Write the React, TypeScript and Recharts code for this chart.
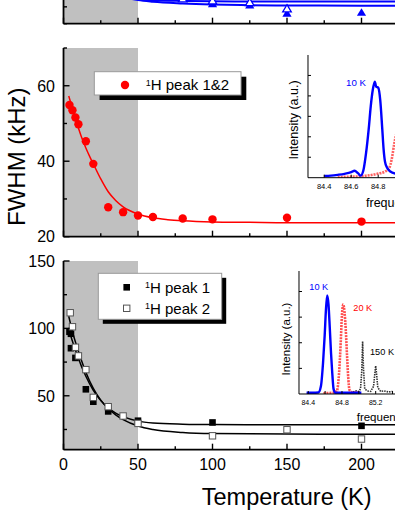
import React from "react";
import {
  CartesianGrid,
  ComposedChart,
  Line,
  LineChart,
  ReferenceArea,
  Scatter,
  XAxis,
  YAxis,
} from "recharts";

const FONT = "'Liberation Sans', Arial, Helvetica, sans-serif";
const RED = "#ff0000";
const BLUE = "#0000ff";

// temperature axis, shared by the three stacked panels
const tempTicks = [0, 25, 50, 75, 100, 125, 150, 175, 200, 225, 250, 275, 300];
const tempMajor = [0, 50, 100, 150, 200, 250, 300];
const tempLabels = [0, 50, 100, 150, 200]; // the rest is outside the crop

// top panel (only its lower edge is inside the crop, its labels are not)
const topTicks = [0, 5, 10, 15, 20, 25, 30, 35, 40, 45, 50, 55];
const topLabels: number[] = [];
const openTriT = [80, 100, 125, 150];
const openTriV = [7.4, 6.8, 6.3, 4.45];
const fullTriT = [100, 125, 150, 200];
const fullTriV = [5.9, 5.55, 3.1, 3.35];
const topFitT = [4, 10, 20, 30, 40, 50, 60, 80, 100, 125, 150, 200, 300];
const topFitA = [52, 32, 17, 11, 8.6, 7.3, 6.95, 6.75, 6.65, 6.6, 6.6, 6.6, 6.6];
const topFitB = [48, 29, 15, 10, 8.0, 7.0, 6.5, 6.0, 5.7, 5.5, 5.4, 5.35, 5.35];

// middle panel: 1H peak 1&2
const midTicks = [20, 30, 40, 50, 60, 70];
const midLabels = [20, 40, 60];
const peak12T = [4, 6, 8, 10, 15, 20, 30, 40, 50, 60, 80, 100, 150, 200];
const peak12W = [54.9, 53.5, 51.6, 49.8, 45.3, 39.3, 27.8, 26.5, 25.6, 25.2, 24.8, 24.6, 25.0, 24.0];
const fit12T = [3.5, 6, 8, 10, 12, 15, 18, 20, 25, 30, 35, 40, 50, 60, 70, 80, 100, 125, 150, 200, 250, 300];
const fit12W = [57.3, 54.0, 51.3, 48.8, 46.5, 43.5, 40.9, 39.3, 35.3, 31.9, 29.6, 27.9, 26.0, 25.0, 24.5, 24.2, 23.9, 23.8, 23.7, 23.7, 23.7, 23.7];

// bottom panel: peak 1 (filled) and peak 2 (open)
const botTicks = [25, 50, 75, 100, 125, 150];
const botLabels = [50, 100, 150];
const peak1T = [4, 5, 5, 8, 15, 20, 30, 50, 100, 200];
const peak1W = [97.5, 96, 85.3, 78.1, 54.8, 45.6, 38.4, 31.5, 30.2, 27.7];
const peak2T = [4.5, 6, 8, 10, 15, 20, 30, 40, 50, 100, 150, 200];
const peak2W = [111.6, 101.2, 86, 79.6, 69.4, 48.8, 41.9, 35, 29.5, 20.3, 24.8, 17.9];
const fitT = [3.5, 5, 6, 8, 10, 12, 15, 20, 25, 30, 35, 40, 50, 60, 80, 100, 150, 200, 300];
const fit1W = [100.5, 94, 90.5, 84, 77.8, 72, 64.5, 54, 46.5, 41, 37.2, 34.5, 31.2, 29.8, 28.9, 28.6, 28.5, 28.5, 28.5];
const fit2W = [109, 102, 97.5, 90, 83, 76.3, 67.5, 55.5, 46.8, 40.5, 35.8, 32.3, 27.6, 25.0, 22.8, 22.0, 21.6, 21.5, 21.5];

// inset of the middle panel (spectra)
const midInsetTicks = [84.4, 84.6, 84.8, 85.0, 85.2];
const midInsetLabels = [84.4, 84.6, 84.8];
const midInsetY = [1, 2, 3, 4, 5];
const midBlueF = [84.4, 84.45, 84.5, 84.55, 84.6, 84.625, 84.65, 84.67, 84.69, 84.71, 84.73, 84.745, 84.76, 84.775, 84.785, 84.8, 84.815, 84.83, 84.84, 84.85, 84.865, 84.89, 84.93];
const midBlueI = [0.08, 0.1, 0.14, 0.19, 0.27, 0.34, 0.22, 0.1, 0.35, 1.2, 2.4, 3.5, 4.3, 4.7, 4.45, 4.4, 3.8, 2.4, 1.4, 0.8, 0.5, 0.3, 0.2];
const midRedF = [84.5, 84.55, 84.6, 84.65, 84.7, 84.75, 84.8, 84.85, 84.88, 84.9, 84.92, 84.94];
const midRedI = [0.03, 0.04, 0.05, 0.06, 0.09, 0.13, 0.2, 0.3, 0.45, 0.9, 1.7, 2.3];

// inset of the bottom panel (spectra at 10 K, 20 K, 150 K)
const botInsetTicks = [84.4, 84.6, 84.8, 85.0, 85.2, 85.4];
const botInsetLabels = [84.4, 84.8, 85.2];
const botInsetY = [1, 2, 3, 4];
const botBlueF = [84.38, 84.45, 84.52, 84.55, 84.575, 84.595, 84.61, 84.625, 84.64, 84.655, 84.67, 84.685, 84.7, 84.72, 84.8, 84.9, 85.03];
const botBlueI = [0.05, 0.05, 0.06, 0.3, 1.2, 2.3, 3.3, 3.85, 3.5, 2.6, 1.6, 0.8, 0.2, 0.05, 0.05, 0.05, 0.05];
const botRedF = [84.58, 84.7, 84.74, 84.765, 84.785, 84.8, 84.815, 84.83, 84.845, 84.86, 84.875, 84.89, 84.93, 85.0];
const botRedI = [0.03, 0.05, 0.12, 0.8, 2.0, 3.1, 3.5, 3.2, 2.5, 1.5, 0.6, 0.15, 0.06, 0.05];
const botBlackF = [84.93, 84.97, 85.0, 85.02, 85.035, 85.045, 85.055, 85.07, 85.1, 85.14, 85.175, 85.19, 85.2, 85.21, 85.225, 85.26, 85.3, 85.35, 85.4];
const botBlackI = [0.08, 0.12, 0.1, 0.2, 0.9, 2.05, 1.0, 0.2, 0.12, 0.1, 0.3, 0.8, 1.1, 0.8, 0.25, 0.1, 0.12, 0.08, 0.1];

const pts = (t: number[], v: number[]) => t.map((x, k) => ({ t: x, v: v[k] }));
const spec = (f: number[], i: number[]) => f.map((x, k) => ({ f: x, i: i[k] }));

const AXIS = { stroke: "#000", strokeWidth: 1.8 };
const THIN = { stroke: "#000", strokeWidth: 1 };
const PLOT_LEFT = 63.5;
const PLOT_W = 447; // 0..300 K
const PLOT_H = 188.7;
const MT = 14;

function TempTick({ x, y, payload, up, labels }: any) {
  const major = tempMajor.includes(payload.value);
  const len = major ? 6 : 3.5;
  return (
    <g>
      <line x1={x} x2={x} y1={y} y2={up ? y - len : y + len} stroke="#000" strokeWidth={1.4} />
      {labels && tempLabels.includes(payload.value) ? (
        <text x={x} y={y + 20.7} textAnchor="middle" fontSize={16} fill="#000">
          {payload.value}
        </text>
      ) : null}
    </g>
  );
}

function ValueTick({ x, y, payload, labels }: any) {
  const major = labels.includes(payload.value);
  const len = major ? 6 : 3.5;
  return (
    <g>
      <line x1={x} x2={x + len} y1={y} y2={y} stroke="#000" strokeWidth={1.4} />
      {major ? (
        <text x={x - 8.5} y={y + 5.8} textAnchor="end" fontSize={16} fill="#000">
          {payload.value}
        </text>
      ) : null}
    </g>
  );
}

function Panel({ plotTop, bottomSpace, yDomain, yTicks, yLabels, xLabels, children }: any) {
  const width = 530;
  return (
    <div style={{ position: "absolute", left: 0, top: plotTop - MT }}>
      <ComposedChart
        width={width}
        height={MT + PLOT_H + bottomSpace}
        margin={{ top: MT, right: width - PLOT_LEFT - PLOT_W, bottom: 0, left: PLOT_LEFT - 60 }}
      >
        <ReferenceArea x1={0} x2={50} fill="#c0c0c0" fillOpacity={1} stroke="none" />
        <XAxis
          dataKey="t"
          type="number"
          domain={[0, 300]}
          ticks={tempTicks}
          interval={0}
          height={bottomSpace}
          tickSize={0}
          tickMargin={0}
          tickLine={false}
          axisLine={AXIS}
          tick={<TempTick up labels={xLabels} />}
          allowDataOverflow
        />
        <XAxis
          xAxisId="top"
          dataKey="t"
          orientation="top"
          type="number"
          domain={[0, 300]}
          ticks={tempTicks}
          interval={0}
          height={0}
          tickSize={0}
          tickMargin={0}
          tickLine={false}
          axisLine={AXIS}
          tick={<TempTick />}
          allowDataOverflow
        />
        <YAxis
          type="number"
          domain={yDomain}
          ticks={yTicks}
          interval={0}
          width={60}
          tickSize={0}
          tickMargin={0}
          tickLine={false}
          axisLine={AXIS}
          tick={<ValueTick labels={yLabels} />}
          allowDataOverflow
        />
        {children}
      </ComposedChart>
    </div>
  );
}

function InsetTickX({ x, y, payload, up, labels, fontSize }: any) {
  return (
    <g>
      <line x1={x} x2={x} y1={y} y2={up ? y - 3 : y + 3} stroke="#000" strokeWidth={1} />
      {labels && labels.includes(payload.value) ? (
        <text x={x} y={y + 11.5} textAnchor="middle" fontSize={fontSize} fill="#000">
          {payload.value.toFixed(1)}
        </text>
      ) : null}
    </g>
  );
}

function InsetTickY({ x, y }: any) {
  return <line x1={x} x2={x + 3} y1={y} y2={y} stroke="#000" strokeWidth={1} />;
}

function Inset({ plotLeft, plotTop, plotW, plotH, xDomain, xTicks, xLabels, yDomain, yTicks, fontSize, children }: any) {
  const mt = 6;
  return (
    <div style={{ position: "absolute", left: plotLeft - 4, top: plotTop - mt }}>
      <LineChart width={plotW + 8} height={mt + plotH + 16} margin={{ top: mt, right: 4, bottom: 0, left: 0 }}>
        <CartesianGrid horizontal={false} vertical={false} fill="#fff" />
        <XAxis
          dataKey="f"
          type="number"
          domain={xDomain}
          ticks={xTicks}
          interval={0}
          height={16}
          tickSize={0}
          tickMargin={0}
          tickLine={false}
          axisLine={THIN}
          tick={<InsetTickX up labels={xLabels} fontSize={fontSize} />}
          allowDataOverflow
        />
        <XAxis
          xAxisId="top"
          dataKey="f"
          orientation="top"
          type="number"
          domain={xDomain}
          ticks={xTicks}
          interval={0}
          height={0}
          tickSize={0}
          tickMargin={0}
          tickLine={false}
          axisLine={THIN}
          tick={<InsetTickX />}
          allowDataOverflow
        />
        <YAxis
          type="number"
          domain={yDomain}
          ticks={yTicks}
          interval={0}
          width={4}
          tickSize={0}
          tickMargin={0}
          tickLine={false}
          axisLine={THIN}
          tick={<InsetTickY />}
          allowDataOverflow
        />
        {children}
      </LineChart>
    </div>
  );
}

const RedDot = (p: any) => <circle cx={p.cx} cy={p.cy} r={4.2} fill={RED} />;
const BlackSq = (p: any) => <rect x={p.cx - 3.3} y={p.cy - 3.3} width={6.6} height={6.6} fill="#000" />;
const WhiteSq = (p: any) => (
  <rect x={p.cx - 3.2} y={p.cy - 3.2} width={6.4} height={6.4} fill="#fff" stroke="#555" strokeWidth={1} />
);
const BlueTri = (p: any) => (
  <path d={`M${p.cx},${p.cy - 4.2}L${p.cx + 4.6},${p.cy + 3.4}L${p.cx - 4.6},${p.cy + 3.4}Z`} fill={BLUE} />
);
const OpenTri = (p: any) => (
  <path
    d={`M${p.cx},${p.cy - 4}L${p.cx + 4.3},${p.cy + 3.2}L${p.cx - 4.3},${p.cy + 3.2}Z`}
    fill="#fff"
    stroke={BLUE}
    strokeWidth={1.3}
  />
);

function Sup({ x, y, text, size }: { x: number; y: number; text: string; size: number }) {
  return (
    <text x={x} y={y} fontSize={size} fill="#000">
      <tspan fontSize={size * 0.6} dy={-4.5}>
        1
      </tspan>
      <tspan dy={4.5}>{text}</tspan>
    </text>
  );
}

export default function App() {
  return (
    <div
      style={{
        position: "fixed",
        left: 0,
        top: 0,
        width: 395,
        height: 511,
        overflow: "hidden",
        background: "#fff",
        fontFamily: FONT,
      }}
    >
      <Panel plotTop={24 - PLOT_H} bottomSpace={8} yDomain={[0, 56]} yTicks={topTicks} yLabels={topLabels}>
        <Line data={pts(topFitT, topFitA)} dataKey="v" type="monotone" stroke={BLUE} strokeWidth={2} dot={false} isAnimationActive={false} />
        <Line data={pts(topFitT, topFitB)} dataKey="v" type="monotone" stroke={BLUE} strokeWidth={2} dot={false} isAnimationActive={false} />
        <Scatter data={pts(fullTriT, fullTriV)} dataKey="v" shape={BlueTri} isAnimationActive={false} />
        <Scatter data={pts(openTriT, openTriV)} dataKey="v" shape={OpenTri} isAnimationActive={false} />
      </Panel>

      <Panel plotTop={48} bottomSpace={8} yDomain={[20, 70]} yTicks={midTicks} yLabels={midLabels}>
        <Line data={pts(fit12T, fit12W)} dataKey="v" type="monotone" stroke={RED} strokeWidth={1.5} dot={false} isAnimationActive={false} />
        <Scatter data={pts(peak12T, peak12W)} dataKey="v" shape={RedDot} isAnimationActive={false} />
      </Panel>

      <Panel plotTop={260.7} bottomSpace={40} yDomain={[10, 150]} yTicks={botTicks} yLabels={botLabels} xLabels>
        <Line data={pts(fitT, fit1W)} dataKey="v" type="monotone" stroke="#000" strokeWidth={1.5} dot={false} isAnimationActive={false} />
        <Line data={pts(fitT, fit2W)} dataKey="v" type="monotone" stroke="#000" strokeWidth={1.5} dot={false} isAnimationActive={false} />
        <Scatter data={pts(peak1T, peak1W)} dataKey="v" shape={BlackSq} isAnimationActive={false} />
        <Scatter data={pts(peak2T, peak2W)} dataKey="v" shape={WhiteSq} isAnimationActive={false} />
      </Panel>

      <Inset
        plotLeft={307.7}
        plotTop={55}
        plotW={137.7}
        plotH={122.7}
        xDomain={[84.28, 85.3]}
        xTicks={midInsetTicks}
        xLabels={midInsetLabels}
        yDomain={[0, 6]}
        yTicks={midInsetY}
        fontSize={7.5}
      >
        <Line data={spec(midRedF, midRedI)} dataKey="i" type="monotone" stroke="#ff6060" strokeWidth={2.6} strokeDasharray="2 1" dot={false} isAnimationActive={false} />
        <Line data={spec(midBlueF, midBlueI)} dataKey="i" type="monotone" stroke={BLUE} strokeWidth={2.4} dot={false} isAnimationActive={false} />
      </Inset>

      <Inset
        plotLeft={299.3}
        plotTop={271}
        plotW={110.4}
        plotH={123}
        xDomain={[84.29, 85.6]}
        xTicks={botInsetTicks}
        xLabels={botInsetLabels}
        yDomain={[0, 4.8]}
        yTicks={botInsetY}
        fontSize={7}
      >
        <Line data={spec(botBlackF, botBlackI)} dataKey="i" type="linear" stroke="#333" strokeWidth={1.6} strokeDasharray="1.5 1" dot={false} isAnimationActive={false} />
        <Line data={spec(botRedF, botRedI)} dataKey="i" type="monotone" stroke="#ff5050" strokeWidth={2.6} strokeDasharray="2 1" dot={false} isAnimationActive={false} />
        <Line data={spec(botBlueF, botBlueI)} dataKey="i" type="monotone" stroke={BLUE} strokeWidth={2.4} dot={false} isAnimationActive={false} />
      </Inset>

      <svg width={395} height={511} style={{ position: "absolute", left: 0, top: 0, pointerEvents: "none" }}>
        <text transform="translate(16.7,156.7) rotate(-90)" textAnchor="middle" dominantBaseline="central" fontSize={24} fill="#000">
          FWHM (kHz)
        </text>
        <text x={286.7} y={505} textAnchor="middle" fontSize={23.5} fill="#000">
          Temperature (K)
        </text>

        {/* legend, middle panel */}
        <rect x={99.6} y={76.7} width={146.7} height={23.3} fill="#000" />
        <rect x={94.3} y={71.7} width={146.7} height={23.3} fill="#fff" stroke="#999" strokeWidth={1} />
        <circle cx={125} cy={85} r={4.2} fill={RED} />
        <Sup x={145.7} y={90.4} text="H peak 1&2" size={15} />

        {/* legend, bottom panel */}
        <rect x={102.8} y={277.8} width={123.4} height={46} fill="#000" />
        <rect x={98.3} y={273.3} width={123.4} height={46} fill="#fff" stroke="#999" strokeWidth={1} />
        <rect x={123.4} y={284} width={6.6} height={6.6} fill="#000" />
        <rect x={123.5} y={305.1} width={6.4} height={6.4} fill="#fff" stroke="#555" strokeWidth={1} />
        <Sup x={145} y={292.7} text="H peak 1" size={15} />
        <Sup x={145} y={313.7} text="H peak 2" size={15} />

        {/* inset annotations */}
        <text transform="translate(294,120) rotate(-90)" textAnchor="middle" dominantBaseline="central" fontSize={12.5} fill="#000">
          Intensity (a.u.)
        </text>
        <text x={366} y={207.2} fontSize={12.5} fill="#000">
          frequency (MHz)
        </text>
        <text x={346} y={85.5} fontSize={9.7} fill={BLUE}>
          10 K
        </text>
        <text transform="translate(286,339) rotate(-90)" textAnchor="middle" dominantBaseline="central" fontSize={11.5} fill="#000">
          Intensity (a.u.)
        </text>
        <text x={356.7} y={421.4} fontSize={11.5} fill="#000">
          frequency (MHz)
        </text>
        <text x={309.3} y={290} fontSize={9.2} fill={BLUE}>
          10 K
        </text>
        <text x={353.3} y={311} fontSize={9.2} fill={RED}>
          20 K
        </text>
        <text x={370} y={355} fontSize={9.2} fill="#000">
          150 K
        </text>
      </svg>
    </div>
  );
}
